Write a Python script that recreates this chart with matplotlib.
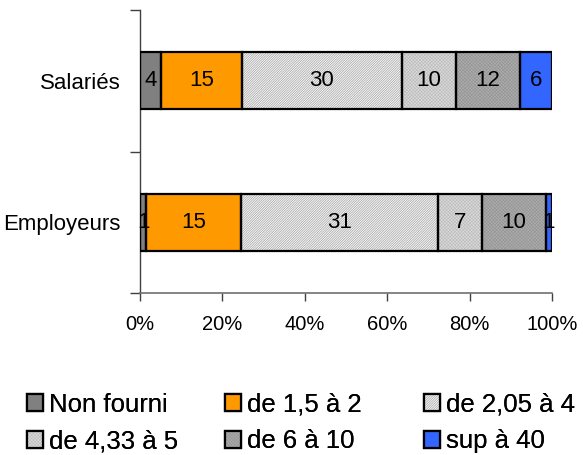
import matplotlib
matplotlib.use("Agg")
import matplotlib.pyplot as plt
from matplotlib.patches import Patch
from matplotlib.legend_handler import HandlerTuple
import numpy as np

plt.rcParams['font.family'] = ['Liberation Sans', 'DejaVu Sans']
plt.rcParams['hatch.linewidth'] = 0.45

groups = ["Employeurs", "Salariés"]
series = ["Non fourni", "de 1,5 à 2", "de 2,05 à 4", "de 4,33 à 5", "de 6 à 10", "sup à 40"]
values = {
    "Salariés":   [4, 15, 30, 10, 12, 6],
    "Employeurs": [1, 15, 31, 7, 10, 1],
}
x_ticks = [0, 20, 40, 60, 80, 100]
x_tick_labels = ["0%", "20%", "40%", "60%", "80%", "100%"]

# fill colour, hatch pattern, hatch colour for each series
styles = [
    ("#808080", None, None),
    ("#FF9900", None, None),
    ("#F4F4F4", "/" * 14, "#A0A0A0"),
    ("#DADADA", "x" * 10, "#BDBDBD"),
    ("#ADADAD", "x" * 10, "#959595"),
    ("#3366FF", None, None),
]

fig = plt.figure(figsize=(5.83, 4.55), dpi=100)
ax = fig.add_axes([140 / 583, 1 - 293 / 455, 412 / 583, 283 / 455])

ypos = np.arange(len(groups))
data = np.array([values[g] for g in groups], dtype=float)
totals = data.sum(axis=1)
shares = data / totals[:, None] * 100

left = np.zeros(len(groups))
bar_h = 0.4
for j, name in enumerate(series):
    face, hatch, hcol = styles[j]
    w = shares[:, j]
    if hatch:
        ax.barh(ypos, w, left=left, height=bar_h, color=face, hatch=hatch,
                edgecolor=hcol, linewidth=0, zorder=2)
    else:
        ax.barh(ypos, w, left=left, height=bar_h, color=face, linewidth=0, zorder=2)
    outline = ax.barh(ypos, w, left=left, height=bar_h, fill=False,
                      edgecolor="black", linewidth=1.6, zorder=3)
    ax.bar_label(outline, labels=[f"{int(v)}" for v in data[:, j]],
                 label_type="center", fontsize=16, color="black", zorder=4)
    left += w

ax.set_xlim(0, 100)
ax.set_ylim(-0.5, 1.5)
ax.set_xticks(x_ticks)
ax.set_xticklabels(x_tick_labels, fontsize=14.5)
ax.set_yticks(ypos)
ax.set_yticklabels(groups, fontsize=16)
ax.set_yticks([-0.5, 0.5, 1.5], minor=True)
ax.tick_params(axis="y", which="major", length=0, pad=14)
ax.tick_params(axis="y", which="minor", length=7, width=1, color="#404040")
ax.tick_params(axis="x", length=6, width=1, color="#404040", pad=10)
for s in ("top", "right"):
    ax.spines[s].set_visible(False)
ax.spines["left"].set_color("#404040")
ax.spines["bottom"].set_color("#707070")
ax.spines["left"].set_linewidth(1)
ax.spines["bottom"].set_linewidth(1.2)


def legend_handle(j):
    face, hatch, hcol = styles[j]
    fill = Patch(facecolor=face, edgecolor=hcol if hatch else face,
                 linewidth=0, hatch=hatch)
    frame = Patch(fill=False, edgecolor="black", linewidth=1.6)
    return (fill, frame)


# three legend columns, two entries each, laid out row by row
col_x = [27, 225, 424]
col_items = [[0, 3], [1, 4], [2, 5]]
for x0, items in zip(col_x, col_items):
    leg = fig.legend([legend_handle(i) for i in items], [series[i] for i in items],
                     handler_map={tuple: HandlerTuple(ndivide=1, pad=0)},
                     loc="center left", bbox_to_anchor=(x0 / 583, 1 - 423 / 455),
                     frameon=False, fontsize=18.5, handlelength=0.62,
                     handleheight=0.62, handletextpad=0.25, labelspacing=0.5,
                     borderpad=0, borderaxespad=0)
    fig.add_artist(leg)

fig.savefig("out.png", dpi=100)
